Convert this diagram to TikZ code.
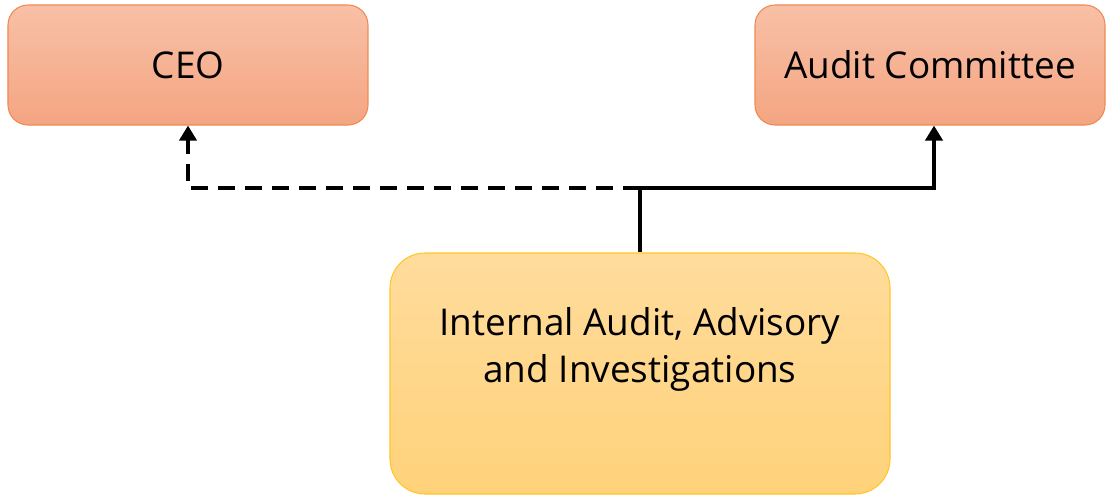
\documentclass[tikz,border=0pt]{standalone}
\usepackage{fontspec}
\setmainfont{Open Sans}
\usetikzlibrary{arrows.meta}

\definecolor{boxtop}{RGB}{248,192,166}
\definecolor{boxbot}{RGB}{244,165,130}
\definecolor{boxline}{RGB}{239,138,84}
\definecolor{unittop}{RGB}{255,220,156}
\definecolor{unitbot}{RGB}{255,210,122}
\definecolor{unitline}{RGB}{255,198,40}

\tikzset{
    head/.style={rectangle, rounded corners=0.4cm, draw=boxline, line width=0.6pt,
        top color=boxtop, bottom color=boxbot, minimum height=2.4cm,
        font=\fontsize{21}{27}\selectfont},
    unit/.style={rectangle, rounded corners=0.7cm, draw=unitline, line width=0.6pt,
        top color=unittop, bottom color=unitbot, minimum width=10cm, minimum height=4.82cm},
    report/.style={line width=2.3pt, -{Triangle[width=0.34cm, length=0.3cm]}},
}

\begin{document}
\begin{tikzpicture}
    \useasboundingbox (0,0) rectangle (22.12,-9.92);

    % Reporting lines
    \node[head, minimum width=7.2cm] (ceo) at (3.76,-1.3) {CEO};
    \node[head, minimum width=7.0cm] (audit) at (18.6,-1.3) {Audit Committee};

    % Internal audit function
    \node[unit, label={[font=\fontsize{21}{27}\selectfont, align=center, yshift=0.48cm]center:Internal Audit, Advisory\\and Investigations}] (iaa) at (12.8,-7.47) {};

    % Connectors
    \coordinate (split) at (12.8,-3.76);
    \draw[line width=2.3pt] (iaa.north) -- (split);
    \draw[report] (split) -| ([xshift=0.08cm]audit.south);
    \draw[report, dash pattern=on 0.34cm off 0.2cm] (split) -| (ceo.south);
\end{tikzpicture}
\end{document}
